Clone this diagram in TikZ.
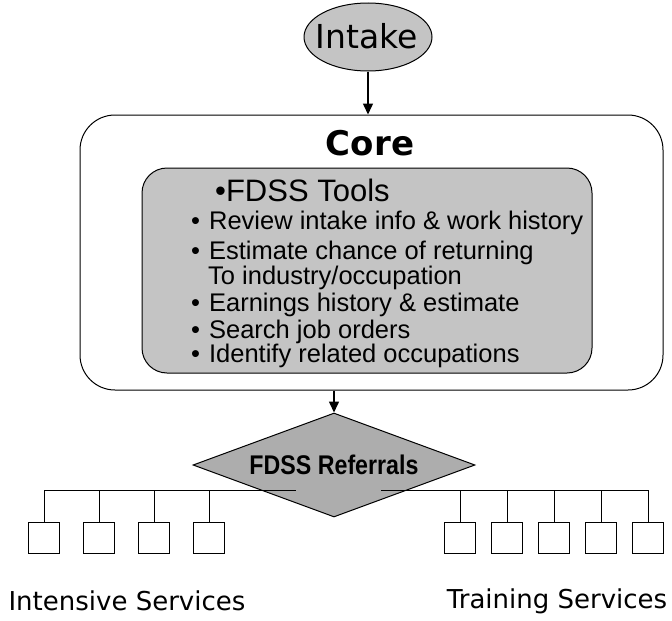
\documentclass[tikz,border=0pt]{standalone}
\usepackage{fontspec}
\setmainfont{DejaVu Sans}
\newfontfamily\arial{Liberation Sans}
\usetikzlibrary{shapes.geometric,arrows.meta}
\definecolor{dotgray}{gray}{0.77}
\definecolor{diagray}{gray}{0.68}
\tikzset{
  conn/.style={line width=1.5pt,-{Triangle[length=11pt,width=10pt]}},
  wire/.style={line width=0.9pt},
  leaf/.style={draw,line width=0.9pt,minimum width=31,minimum height=31,inner sep=0,anchor=north},
  bul/.style={anchor=west,inner sep=0,font=\arial\fontsize{25.5}{25.5}\selectfont},
  svc/.style={inner sep=0,font=\fontsize{26}{26}\selectfont}
}
\begin{document}
\begin{tikzpicture}[x=1pt,y=-1pt]
\useasboundingbox (0,0) rectangle (672,621);
% Intake
\node[ellipse,draw,line width=1pt,fill=dotgray,minimum width=128,minimum height=68,inner sep=0] (intake) at (368,37) {};
\node[inner sep=0,font=\fontsize{33}{33}\selectfont] (intaketext) at (367,36) {Intake};
% Core
\node[draw,line width=1pt,rounded corners=35,minimum width=583,minimum height=275,inner sep=0] (core) at (371.5,252.5) {};
\node[inner sep=0,font=\bfseries\fontsize{34}{34}\selectfont] (coretext) at (370,143) {Core};
\node[draw,line width=1pt,fill=dotgray,rounded corners=25,minimum width=450,minimum height=205,inner sep=0] (tools) at (367,270.5) {};
\node[anchor=west,inner sep=0,font=\arial\fontsize{31}{31}\selectfont] (t0) at (215,190) {•FDSS Tools};
\node[bul] (t1) at (191,223) {•\hspace{9pt}Review intake info \& work history};
\node[bul] (t2) at (191,253) {•\hspace{9pt}Estimate chance of returning};
\node[bul] (t3) at (208,278) {To industry/occupation};
\node[bul] (t4) at (191,305) {•\hspace{9pt}Earnings history \& estimate};
\node[bul] (t5) at (191,332) {•\hspace{9pt}Search job orders};
\node[bul] (t6) at (191,356) {•\hspace{9pt}Identify related occupations};
% Diamond
\node[diamond,draw,line width=1pt,fill=diagray,aspect=2.7,minimum width=282,minimum height=104,inner sep=0] (ref) at (334,465) {};
\node[inner sep=0,font=\arial\bfseries\fontsize{27}{27}\selectfont,xscale=0.86] (reftext) at (334,465) {FDSS Referrals};
% arrows
\draw[conn] (intake.south) -- (intake.south |- core.north);
\draw[conn] (ref.north |- core.south) -- (ref.north);
% branch line
\coordinate (hl) at (44,490);
\coordinate (hlend) at (296,490);
\coordinate (hr) at (381,490);
\coordinate (hrend) at (648,490);
\draw[wire] (hl) -- (hlend);
\draw[wire] (hr) -- (hrend);
\foreach \i/\x in {1/44,2/99,3/154,4/209}{
  \node[leaf] (l\i) at (\x,522) {};
  \draw[wire] (l\i.north |- hl) -- (l\i.north);
}
\foreach \i/\x in {1/460,2/507,3/554,4/601,5/648}{
  \node[leaf] (r\i) at (\x,522) {};
  \draw[wire] (r\i.north |- hr) -- (r\i.north);
}
\node[svc] (ints) at (127,601) {Intensive Services};
\node[svc] (trs) at (557,601) {Training Services};
\end{tikzpicture}
\end{document}
